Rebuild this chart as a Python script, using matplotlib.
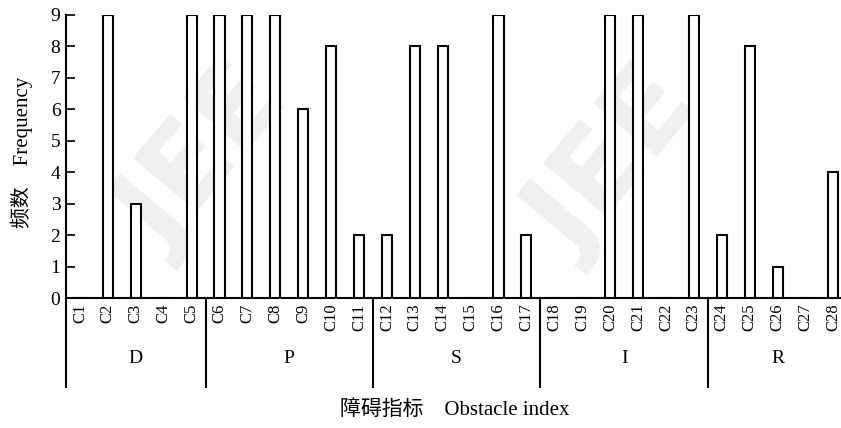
import matplotlib.pyplot as plt

categories = ['C%d' % i for i in range(1, 29)]
frequency = [0, 9, 3, 0, 9, 9, 9, 9, 6, 8, 2, 2, 8, 8,
             0, 9, 2, 0, 0, 9, 9, 0, 9, 2, 8, 1, 0, 4]
groups = ['D', 'P', 'S', 'I', 'R']
group_sizes = [5, 6, 6, 6, 5]
yticks = list(range(0, 10))

serif = ['Liberation Serif', 'Noto Sans CJK SC']
plt.rcParams['font.family'] = serif


def main():
    fig = plt.figure(figsize=(8.41, 4.28), dpi=100)
    ax = fig.add_axes([0.0785, 0.3037, 0.929, 0.6613])

    # watermark, behind the axes
    for cx, cy in [(205, 160), (615, 165)]:
        fig.text(cx / 841, 1 - cy / 428, 'JEE', rotation=50, ha='center', va='center',
                 fontsize=82, fontweight='bold', family='DejaVu Sans',
                 color='#f0f0f0', zorder=-1)

    x = list(range(len(categories)))
    ax.bar(x, frequency, width=0.36, color='white', edgecolor='black',
           linewidth=1.5, zorder=3)

    ax.set_xlim(-0.5, len(categories) - 0.5)
    ax.set_ylim(0, 9)
    ax.set_yticks(yticks)
    ax.set_xticks(x)
    ax.set_xticklabels(categories, rotation=90, fontsize=12)
    ax.tick_params(axis='x', length=0, pad=4)
    ax.tick_params(axis='y', direction='in', length=6.5, width=1.2, labelsize=14, pad=4)
    ax.patch.set_alpha(0)

    for s in ['top', 'right']:
        ax.spines[s].set_visible(False)
    for s in ['left', 'bottom']:
        ax.spines[s].set_linewidth(1.5)

    # group separators and labels below the axis
    trans = ax.get_xaxis_transform()
    bottom = -0.315
    ax.plot([-0.5, -0.5], [0, bottom], color='black', lw=1.5, transform=trans, clip_on=False)
    start = 0
    for name, n in zip(groups, group_sizes):
        end = start + n
        ax.text((start + end - 1) / 2, -0.215, name, ha='center', va='center',
                fontsize=14, transform=trans)
        if end < len(categories):
            ax.plot([end - 0.5, end - 0.5], [0, bottom], color='black', lw=1.5,
                    transform=trans, clip_on=False)
        start = end

    fig.text(455 / 841, 1 - 410 / 428, '障碍指标\u3000Obstacle index', ha='center',
             va='center', fontsize=15)
    fig.text(22 / 841, 1 - 152 / 428, '频数\u3000Frequency', rotation=90, ha='center',
             va='center', fontsize=15)

    fig.savefig('out.png', dpi=100)


if __name__ == '__main__':
    main()
